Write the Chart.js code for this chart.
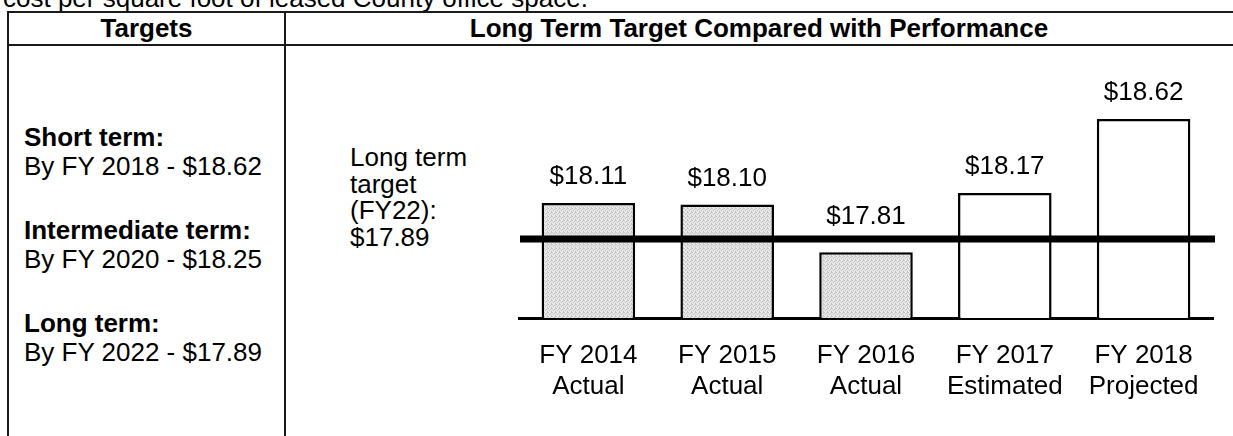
<!DOCTYPE html>
<html><head><meta charset="utf-8">
<script src="https://cdn.jsdelivr.net/npm/chart.js@4.4.1/dist/chart.umd.min.js"></script>
<style>
html,body{margin:0;padding:0;background:#fff;}
body{width:1233px;height:436px;overflow:hidden;position:relative;font-family:"Liberation Sans",Arial,sans-serif;color:#000;}
.t{position:absolute;font-size:26px;line-height:30px;white-space:nowrap;}
.b{font-weight:bold;}
.hl{position:absolute;background:#1a1a1a;}
#c{position:absolute;left:0;top:0;}
</style></head><body>
<div class="t" style="left:3px;top:-17px">cost per square foot of leased County office space.</div>
<div class="hl" style="left:8px;top:11px;width:1225px;height:2px"></div>
<div class="hl" style="left:8px;top:44px;width:1225px;height:2px"></div>
<div class="hl" style="left:7px;top:11px;width:2px;height:425px"></div>
<div class="hl" style="left:284px;top:11px;width:2px;height:425px"></div>
<div class="t b" style="left:8px;width:277px;text-align:center;top:13px">Targets</div>
<div class="t b" style="left:285px;width:948px;text-align:center;top:13px">Long Term Target Compared with Performance</div>
<div id="left"></div>
<div class="t" id="lt" style="left:350px;top:144px;line-height:26.7px"></div>
<canvas id="c" width="1233" height="436"></canvas>
<script>
// ---- data ----
const categories = ['FY 2014', 'FY 2015', 'FY 2016', 'FY 2017', 'FY 2018'];
const categoryStatus = ['Actual', 'Actual', 'Actual', 'Estimated', 'Projected'];
const costValues = [18.11, 18.10, 17.81, 18.17, 18.62];
const longTermTarget = 17.89;
const targetTerms = ['Short term:', 'Intermediate term:', 'Long term:'];
const targetDescriptions = ['By FY 2018 - $18.62', 'By FY 2020 - $18.25', 'By FY 2022 - $17.89'];
const targetLabelLines = ['Long term', 'target', '(FY22):', '$17.89'];

// ---- left column text ----
const left = document.getElementById('left');
const termTops = [122, 215, 308];
targetTerms.forEach((term, i) => {
  const a = document.createElement('div');
  a.className = 't b'; a.style.left = '24px'; a.style.top = termTops[i] + 'px';
  a.textContent = term; left.appendChild(a);
  const b = document.createElement('div');
  b.className = 't'; b.style.left = '24px'; b.style.top = (termTops[i] + 29) + 'px';
  b.textContent = targetDescriptions[i]; left.appendChild(b);
});
document.getElementById('lt').innerHTML = targetLabelLines.join('<br>');

const FONT = '"Liberation Sans", Arial, sans-serif';

// stippled light-grey fill for actual bars (fixed dither tile)
function stipple() {
  const c = document.createElement('canvas');
  c.width = 4; c.height = 4;
  const g = c.getContext('2d');
  g.fillStyle = '#e2e2e2'; g.fillRect(0, 0, 4, 4);
  g.fillStyle = '#c4c4c4';
  [[0,0],[2,1],[1,2],[3,3],[3,0]].forEach(([x, y]) => g.fillRect(x, y, 1, 1));
  g.fillStyle = '#f2f2f2';
  [[1,0],[0,3],[2,2]].forEach(([x, y]) => g.fillRect(x, y, 1, 1));
  return g.createPattern(c, 'repeat');
}
const actualFill = stipple();

const targetLinePlugin = {
  id: 'targetLine',
  afterDatasetsDraw(chart) {
    const { ctx, chartArea, scales: { y } } = chart;
    const py = y.getPixelForValue(longTermTarget);
    ctx.save();
    ctx.strokeStyle = '#000';
    ctx.lineWidth = 7;
    ctx.beginPath();
    ctx.moveTo(chartArea.left + 1, py);
    ctx.lineTo(chartArea.right + 2, py);
    ctx.stroke();
    ctx.restore();
  }
};

const valueLabelPlugin = {
  id: 'valueLabels',
  afterDatasetsDraw(chart) {
    const { ctx, scales: { y } } = chart;
    const lineY = y.getPixelForValue(longTermTarget);
    const meta = chart.getDatasetMeta(0);
    ctx.save();
    ctx.fillStyle = '#000';
    ctx.font = '26px ' + FONT;
    ctx.textAlign = 'center';
    ctx.textBaseline = 'middle';
    meta.data.forEach((bar, i) => {
      let ly = bar.y - 26;
      // keep a label clear of the target line when its bar sits below it
      if (bar.y > lineY && ly + 12 > lineY - 10) ly = lineY - 22;
      ctx.fillText('$' + costValues[i].toFixed(2), bar.x, ly);
    });
    ctx.restore();
  }
};

new Chart(document.getElementById('c'), {
  type: 'bar',
  data: {
    labels: categories.map((c, i) => [c, categoryStatus[i]]),
    datasets: [{
      data: costValues,
      backgroundColor: categoryStatus.map(s => s === 'Actual' ? actualFill : '#ffffff'),
      borderColor: '#000',
      borderWidth: 2.5,
      borderSkipped: 'bottom',
      categoryPercentage: 1,
      barPercentage: 0.674
    }]
  },
  options: {
    responsive: false,
    animation: false,
    devicePixelRatio: 1,
    layout: { padding: { left: 519, right: 20, top: 89.4, bottom: 0 } },
    plugins: { legend: { display: false }, tooltip: { enabled: false } },
    scales: {
      x: {
        grid: { display: false },
        border: { display: true, color: '#000', width: 3 },
        ticks: { color: '#000', font: { family: FONT, size: 26, lineHeight: 31 / 26 }, padding: 14, maxRotation: 0, autoSkip: false },
        afterFit(s) { s.height = 118; }
      },
      y: { display: false, min: 17.41, max: 18.8 }
    }
  },
  plugins: [targetLinePlugin, valueLabelPlugin]
});
</script>
</body></html>
